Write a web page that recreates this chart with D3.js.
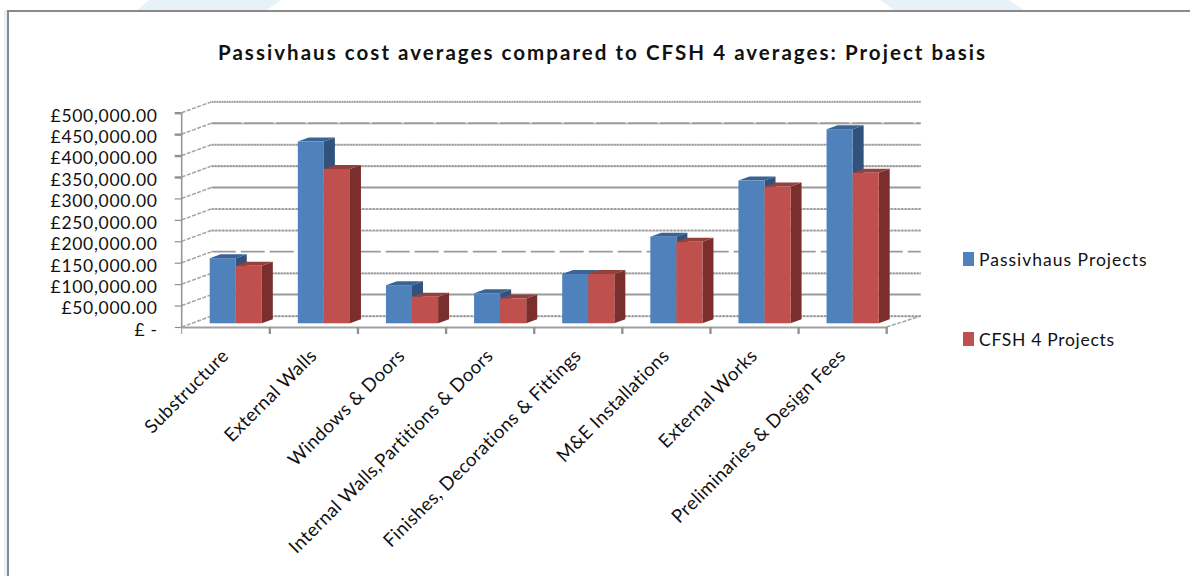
<!DOCTYPE html>
<html><head><meta charset="utf-8">
<script src="https://cdn.jsdelivr.net/npm/d3@7"></script>
<style>html,body{margin:0;padding:0;background:#fff}svg{display:block}text{font-family:Lato,"Open Sans",sans-serif;fill:#111}</style>
</head><body><div id="c"></div>
<script>
const titleText = "Passivhaus cost averages compared to CFSH 4 averages: Project basis";
const categories = ["Substructure","External Walls","Windows & Doors","Internal Walls,Partitions & Doors","Finishes, Decorations & Fittings","M&E Installations","External Works","Preliminaries & Design Fees"];
const seriesNames = ["Passivhaus Projects","CFSH 4 Projects"];
const passivhaus = [152000,424000,89000,70000,115000,202000,333000,453000];
const cfsh = [134000,360000,62000,58000,115000,190000,319000,351000];
const tickValues = [0,50000,100000,150000,200000,250000,300000,350000,400000,450000,500000];
const tickLabels = ["£ -","£50,000.00","£100,000.00","£150,000.00","£200,000.00","£250,000.00","£300,000.00","£350,000.00","£400,000.00","£450,000.00","£500,000.00"];

const W=1190,H=576;
const svg=d3.select("#c").append("svg").attr("width",W).attr("height",H);

// page backdrop
const pale="#e6f2f7";
[[[149,0],[281,0],[267,10],[137,10]],[[880,0],[1009,0],[1024,10],[894,10]]].forEach(p=>
  svg.append("polygon").attr("points",p.join(" ")).attr("fill",pale));
svg.append("rect").attr("x",4).attr("y",10).attr("width",3).attr("height",H-10).attr("fill",pale);
svg.append("path").attr("d",`M8,${H}V11H${W}`).attr("fill","none").attr("stroke","#8a8a8a").attr("stroke-width",2);

// scales
const x=d3.scaleBand().domain(categories).range([181.7,886.7]);
const y=d3.scaleLinear().domain([0,500000]).range([327,112.7]);
const inner=d3.scaleBand().domain(seriesNames).range([0,x.bandwidth()]).paddingOuter(0.69).paddingInner(0);
// 3-D offsets
const wall={dx:30,dy:-11}, barPlane={dx:10,dy:-3.7}, barDepth={dx:11,dy:-4};
const wallRight=920.7;

// gridlines on back wall and side wall
const gridDash={0:"2 1.5",50000:null,100000:"2 1",150000:"24 5",200000:"2 1.5",250000:"2 1.5",300000:null,350000:"2 1",400000:"2 1",450000:"30 2",500000:"1.5 1"};
const grid=svg.append("g").attr("fill","none");
tickValues.forEach(v=>{
  const yb=y(v)+wall.dy, dash=gridDash[v];
  if(dash && v!==150000) grid.append("line").attr("x1",x.range()[0]+wall.dx).attr("x2",wallRight).attr("y1",yb+0.5).attr("y2",yb+0.5)
    .attr("stroke","#c4c4c4").attr("stroke-width",1.5);
  grid.append("line").attr("x1",x.range()[0]+wall.dx).attr("x2",wallRight).attr("y1",yb).attr("y2",yb)
    .attr("stroke","#9a9a9a").attr("stroke-width",dash?1.8:2).attr("stroke-dasharray",dash);
  grid.append("line").attr("x1",x.range()[0]).attr("x2",x.range()[0]+wall.dx).attr("y1",y(v)).attr("y2",yb)
    .attr("stroke","#a3a3a3").attr("stroke-width",1.5).attr("stroke-dasharray","4 1.5");
});
// right floor edge
grid.append("line").attr("x1",x.range()[1]).attr("x2",wallRight).attr("y1",y(0)).attr("y2",y(0)+wall.dy)
  .attr("stroke","#a3a3a3").attr("stroke-width",1.5).attr("stroke-dasharray","4 1.5");

// y axis
const yAxis=d3.axisLeft(y).tickValues(tickValues).tickFormat((d,i)=>tickLabels[i]).tickSize(7).tickPadding(17);
const gy=svg.append("g").attr("transform",`translate(${x.range()[0]},1)`).call(yAxis);
gy.select(".domain").attr("stroke","none");
gy.selectAll(".tick line").attr("stroke","#8f8f8f").attr("stroke-width",d=>d>=350000?2.4:1.2).attr("transform","translate(0,-1)");
gy.selectAll(".tick text").attr("font-size",17.5).attr("dy","0.42em").attr("fill","#111").attr("letter-spacing",0.7);
svg.append("line").attr("x1",x.range()[0]).attr("x2",x.range()[0]).attr("y1",y(500000)).attr("y2",y(0)).attr("stroke","#969696").attr("stroke-width",1.6);

// x axis
const xAxis=d3.axisBottom(x).tickSize(0).tickPadding(0);
const gx=svg.append("g").attr("transform",`translate(0,${y(0)})`).call(xAxis);
gx.select(".domain").attr("stroke","#a0a0a0").attr("stroke-width",2);
gx.selectAll(".tick text")
  .attr("font-size",18.6).attr("text-anchor","end").attr("fill","#222").attr("letter-spacing",0.4)
  .attr("transform","translate(4,30) rotate(-45)").attr("dy",0).attr("y",0).attr("x",0);
const edges=categories.map(c=>x(c)).concat([x.range()[1]]);
svg.append("g").selectAll("line").data(edges).join("line")
  .attr("x1",d=>d).attr("x2",d=>d).attr("y1",y(0)).attr("y2",y(0)+7)
  .attr("stroke","#939393").attr("stroke-width",(d,i)=>i?2.4:1);

// 3-D bars
const colours=[{front:"#4f81bd",side:"#30527c",top:"#3a6496"},{front:"#c0504d",side:"#7b2f2d",top:"#94403d"}];
const values=[passivhaus,cfsh];
const barsG=svg.append("g");
categories.forEach((c,ci)=>{
  seriesNames.forEach((s,si)=>{
    const v=values[si][ci], col=colours[si];
    const x0=x(c)+inner(s)+barPlane.dx, w=inner.bandwidth(), x1=x0+w;
    const yt=y(v)+barPlane.dy, yb=y(0)+barPlane.dy;
    const g=barsG.append("g");
    g.append("path").attr("fill",col.side).attr("d",`M${x1},${yt}L${x1+barDepth.dx},${yt+barDepth.dy}L${x1+barDepth.dx},${yb+barDepth.dy}L${x1},${yb}Z`);
    g.append("path").attr("fill",col.top).attr("d",`M${x0},${yt}L${x0+barDepth.dx},${yt+barDepth.dy}L${x1+barDepth.dx},${yt+barDepth.dy}L${x1},${yt}Z`);
    g.append("rect").attr("x",x0).attr("y",yt).attr("width",w).attr("height",yb-yt).attr("fill",col.front);
  });
});

// title
svg.append("text").attr("x",601.5).attr("y",60).attr("text-anchor","middle").attr("font-size",20.5).attr("font-weight",700)
  .attr("textLength",767).attr("lengthAdjust","spacing").attr("fill","#000").text(titleText);

// legend
const ly=d3.scalePoint().domain(seriesNames).range([266,346]);
const leg=svg.append("g").selectAll("g").data(seriesNames).join("g");
leg.append("rect").attr("x",963).attr("y",d=>ly(d)-14).attr("width",11).attr("height",14).attr("fill",(d,i)=>colours[i].front);
leg.append("text").attr("x",979).attr("y",d=>ly(d)).attr("font-size",17.5).attr("letter-spacing",(d,i)=>i?0.7:1).text(d=>d);
</script></body></html>
